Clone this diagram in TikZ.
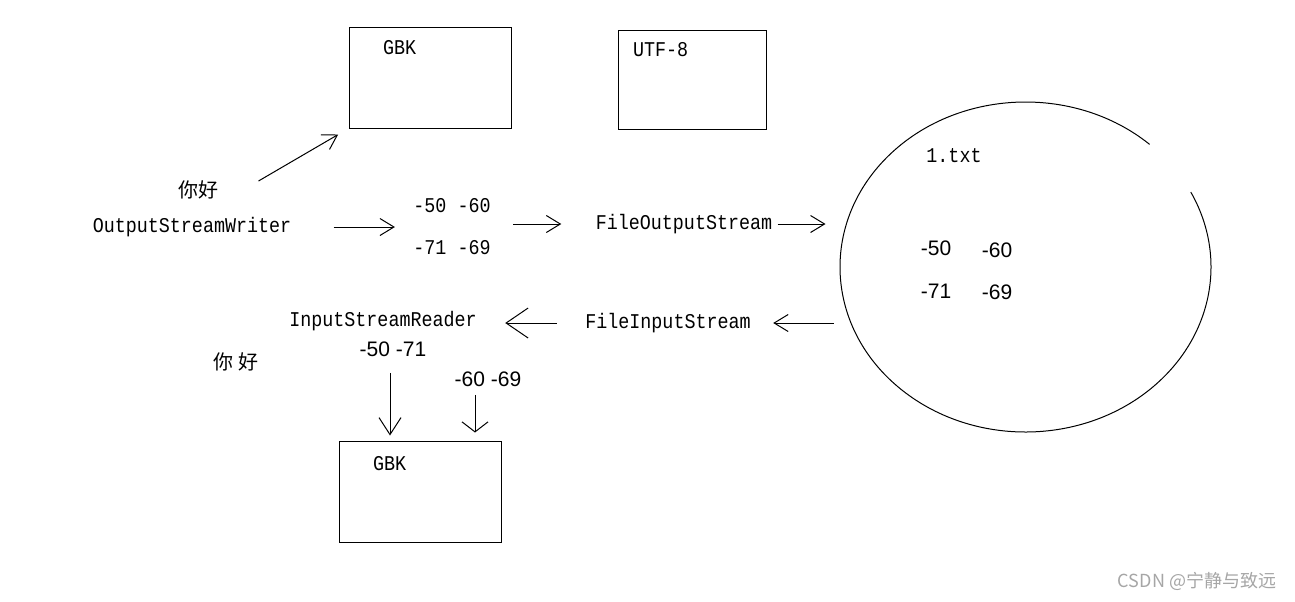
\documentclass[tikz,border=0pt]{standalone}
\usepackage{fontspec}
\setmainfont{Liberation Sans}
\newfontfamily\simmono[FakeStretch=0.875]{Liberation Mono}
\newfontfamily\cjk{Noto Sans CJK SC}
\usetikzlibrary{arrows.meta,positioning,shapes.geometric}

\begin{document}
\begin{tikzpicture}[
  x=0.5pt, y=-0.5pt,
  line width=0.5pt,
  box/.style={draw, minimum width=81pt, minimum height=50.5pt, inner sep=0pt},
  code/.style={inner sep=0pt, align=center, font=\simmono\fontsize{10.5}{21}\selectfont},
  num/.style={inner sep=0pt, font=\fontsize{10.5}{12}\selectfont},
  zh/.style={inner sep=0pt, font=\cjk\fontsize{10}{12}\selectfont},
  big/.style={-{Straight Barb[length=11pt,width=15pt]}},
  every edge/.style={draw, -{Straight Barb[length=7pt,width=8.5pt]}}
]
\useasboundingbox (0,0) rectangle (1295,601);
% code pages
\node[box] (gbkA) at (430,77.5) {};
\node[box, minimum width=74pt, minimum height=49.5pt] (utf) at (692,79.5) {};
\node[box] (gbkB) at (420,491.5) {};
\node[code, below right=6.5pt and 17pt of gbkA.north west] (gbkAt) {GBK};
\node[code, below right=6pt and 7.5pt of utf.north west] (utft) {UTF-8};
\node[code, below right=7.5pt and 17pt of gbkB.north west] (gbkBt) {GBK};
% writing side
\node[zh] (nihao) at (198,190) {你好};
\node[code] (osw) at (192,227) {OutputStreamWriter};
\node[code] (bytes) at (452,227) {-50 -60\\-71 -69};
\node[code] (fos) at (684,224) {FileOutputStream};
% the file
\node[ellipse, minimum width=185.5pt, minimum height=165pt, inner sep=0pt] (file) at (1025.5,267) {};
\draw (file.center) ++(48:92.75pt and 82.5pt)
  arc[start angle=48, end angle=387, x radius=92.75pt, y radius=82.5pt];
\node[code] (txt) at (954,156) {1.txt};
\node[num] (fa) at (936,248) {-50};
\node[num] (fb) at (997,250) {-60};
\node[num] (fc) at (936,291) {-71};
\node[num] (fd) at (997,292) {-69};
% reading side
\node[code] (fis) at (668,323) {FileInputStream};
\node[code] (isr) at (383,321) {InputStreamReader};
\node[num] (rda) at (393,349) {-50 -71};
\node[num] (rdb) at (488,379) {-60 -69};
\node[zh] (nihao2) at (236,362) {你 好};
\node[inner sep=0pt, text=gray!70, font=\cjk\fontsize{9}{10}\selectfont] (mark) at (1197,581) {CSDN @宁静与致远};
\path ([xshift=20pt,yshift=4.5pt]nihao.east) edge[shorten >=6pt] (gbkA.south west)
      (osw) edge[shorten <=21pt, shorten >=9pt] (bytes)
      (bytes.east |- fos.west) edge[shorten <=11pt, shorten >=17pt] (fos.west)
      (fos.east) edge[shorten <=2.5pt, shorten >=7pt] (fos.east -| file.west)
      (file.west |- fis.east) edge[shorten <=3pt, shorten >=11pt] (fis.east)
      (fis.west) edge[big, shorten <=14pt, shorten >=14pt] (fis.west -| isr.east)
      ([xshift=-1.5pt]rda.south) edge[-{Straight Barb[length=8.5pt,width=11pt]}, shorten <=8pt, shorten >=2.5pt] ([xshift=-1.5pt]rda.south |- gbkB.north)
      ([xshift=-6.5pt]rdb.south) edge[-{Straight Barb[length=5pt,width=13pt]}, shorten <=4pt, shorten >=4pt] ([xshift=-6.5pt]rdb.south |- gbkB.north);
\end{tikzpicture}
\end{document}
